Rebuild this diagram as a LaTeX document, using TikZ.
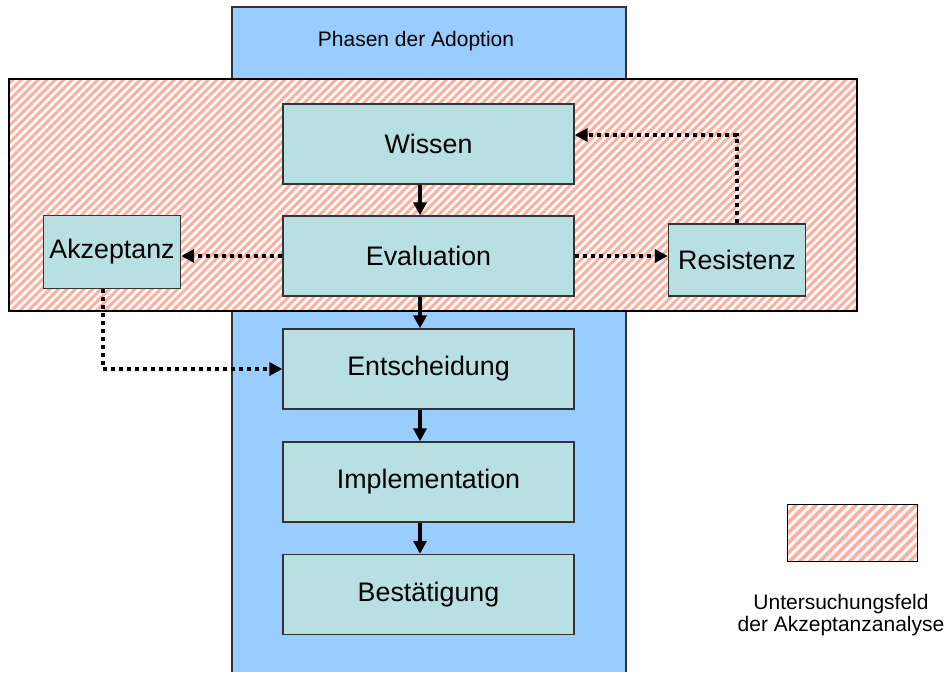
\documentclass[tikz,border=0pt]{standalone}
\usepackage{fontspec}
\setmainfont{Liberation Sans}
\usetikzlibrary{arrows.meta}
\definecolor{colblue}{HTML}{99CCFF}
\definecolor{boxfill}{HTML}{B8DFE1}
\definecolor{hatch}{HTML}{FFB0A0}
\definecolor{edge}{HTML}{333333}
\tikzset{
  phase/.style={draw=edge, line width=1.3pt, fill=boxfill, inner sep=0pt,
    minimum width=291pt, minimum height=80pt, font=\fontsize{26.8}{30}\selectfont},
  sidebox/.style={draw=edge, line width=1.3pt, fill=boxfill, inner sep=0pt,
    minimum width=137pt, minimum height=73pt, font=\fontsize{26.8}{30}\selectfont},
  stripe/.style={draw=hatch, line width=3.1pt},
  solidarrow/.style={line width=3.6pt, -{Triangle[length=13pt,width=13pt]}},
  dotarrow/.style={line width=4pt, dash pattern=on 4pt off 4pt, -{Triangle[length=13pt,width=13pt]}},
  lbl/.style={inner sep=0pt, font=\fontsize{21}{22}\selectfont, align=center}
}
\begin{document}
\begin{tikzpicture}[x=1pt,y=-1pt]
\useasboundingbox (0,0) rectangle (949,672);
% blue column
\fill[colblue] (232,7) rectangle (626,672);
\draw[edge, line width=1.3pt] (232,672) -- (232,7) -- (626,7) -- (626,672);
\node[lbl] (phasen) at (416,41) {Phasen der Adoption};
% hatched field
\fill[white] (9,79) rectangle (857,311);
\begin{scope}
  \clip (9,79) rectangle (857,311);
  \foreach \i in {-29,...,101} {
    \draw[stripe] (9+8.5*\i,313) -- (9+8.5*\i+236,77);
  }
\end{scope}
\draw[black, line width=1.1pt] (9,79) rectangle (857,311);
% nodes
\node[phase] (wissen) at (428.5,144) {Wissen};
\node[phase] (eval) at (428.5,256) {Evaluation};
\node[phase] (ent) at (428.5,369) {Entscheidung};
\node[phase] (impl) at (428.5,482) {Implementation};
\node[phase] (best) at (428.5,594.5) {Bestätigung};
\node[sidebox] (akz) at (112,252) {Akzeptanz};
\node[sidebox, minimum height=72pt] (res) at (737,260) {Resistenz};
% helper coordinates
\coordinate (ax) at (420,0);
\coordinate (ax2) at (103,0);
\coordinate (ry) at (0,135);
% solid arrows
\draw[solidarrow] (wissen.south -| ax) -- (eval.north -| ax);
\draw[solidarrow] (eval.south -| ax) -- (ent.north -| ax);
\draw[solidarrow] (ent.south -| ax) -- (impl.north -| ax);
\draw[solidarrow] (impl.south -| ax) -- (best.north -| ax);
% dotted arrows
\draw[dotarrow] (eval.west) -- (akz.east |- eval.west);
\draw[dotarrow] (eval.east) -- (res.west |- eval.east);
\draw[dotarrow] (res.north) |- (wissen.east |- ry);
\draw[dotarrow] (akz.south -| ax2) |- (ent.west);
% legend
\node[fill=white, minimum width=129pt, minimum height=56pt, inner sep=0pt] (legbg) at (852.5,533) {};
\begin{scope}
  \clip (legbg.south west) rectangle (legbg.north east);
  \foreach \i in {-7,...,14} {
    \draw[stripe, line width=3.6pt] (788+10*\i,563) -- (788+10*\i+60,503);
  }
\end{scope}
\draw[black, line width=1.1pt] (legbg.south west) rectangle (legbg.north east);
\node[lbl] (legtxt) at (841,615) {Untersuchungsfeld\\ der Akzeptanzanalyse};
\end{tikzpicture}
\end{document}
